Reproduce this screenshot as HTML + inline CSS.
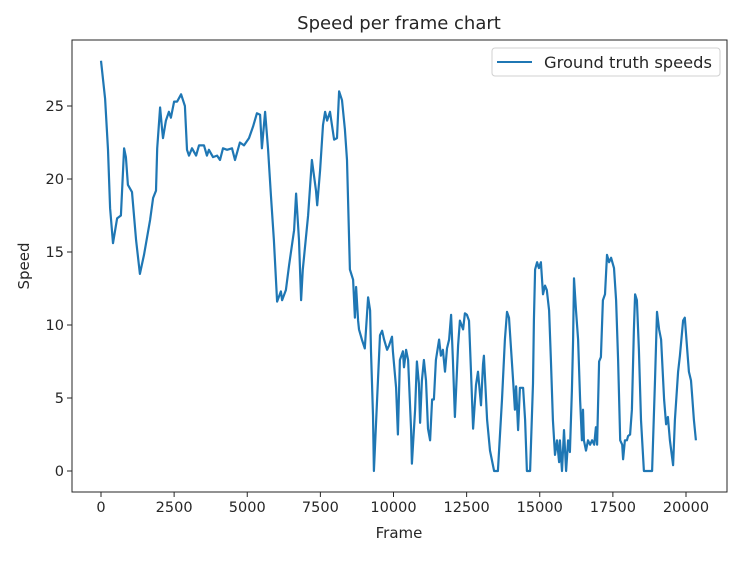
<!DOCTYPE html>
<html><head><meta charset="utf-8"><style>
html,body{margin:0;padding:0;background:#fff;}
svg text{font-family:"DejaVu Sans","Liberation Sans",sans-serif;fill:#262626;}
</style></head><body>
<svg id="chart" width="746" height="560" viewBox="0 0 746 560" xmlns="http://www.w3.org/2000/svg">
<rect width="746" height="560" fill="#fff"/>
<text x="399" y="29" text-anchor="middle" font-size="18">Speed per frame chart</text>
<g id="axes"></g>
<text x="399" y="538" text-anchor="middle" font-size="15">Frame</text>
<text transform="translate(29,266) rotate(-90)" text-anchor="middle" font-size="15">Speed</text>
<g>
<rect x="492" y="48" width="228" height="28" rx="3" fill="#fff" stroke="#d0d0d0"/>
<line x1="497" y1="62" x2="532" y2="62" stroke="#1f77b4" stroke-width="2"/>
<text x="544" y="68" font-size="16" textLength="168" lengthAdjust="spacingAndGlyphs">Ground truth speeds</text>
</g>
</svg>
<script>
const frames=[0,140,240,310,410,550,680,790,850,920,1060,1200,1330,1470,1680,1780,1880,1920,2020,2090,2120,2220,2320,2390,2500,2600,2740,2870,2940,3010,3110,3250,3350,3520,3620,3690,3830,3970,4070,4170,4310,4480,4580,4750,4890,5060,5200,5330,5440,5500,5610,5710,5810,5910,6020,6150,6190,6320,6430,6600,6670,6770,6840,6900,7080,7210,7350,7390,7490,7590,7660,7730,7830,7970,8070,8140,8240,8340,8410,8510,8620,8680,8720,8790,8820,8920,9020,9130,9200,9230,9300,9330,9440,9540,9610,9680,9780,9850,9950,9980,10090,10150,10220,10320,10360,10430,10500,10600,10630,10740,10800,10870,10910,10970,11040,11110,11180,11250,11320,11380,11450,11560,11620,11690,11760,11830,11900,11970,12030,12100,12210,12270,12380,12440,12510,12580,12650,12720,12820,12890,12990,13060,13090,13200,13300,13440,13570,13710,13810,13880,13950,14020,14090,14150,14190,14260,14320,14430,14500,14560,14670,14770,14800,14840,14910,14970,15040,15110,15180,15240,15320,15380,15450,15520,15590,15660,15690,15760,15830,15900,15970,16030,16100,16140,16170,16240,16310,16380,16440,16480,16510,16580,16650,16720,16790,16860,16920,16960,17030,17090,17160,17230,17300,17370,17440,17540,17610,17680,17750,17820,17850,17910,17980,18020,18090,18150,18220,18260,18320,18390,18460,18560,18840,18940,19010,19080,19150,19250,19320,19380,19450,19560,19620,19730,19790,19900,19960,20070,20100,20170,20210,20270,20340];
const speeds=[28.1,25.5,22,18,15.6,17.3,17.5,22.1,21.5,19.6,19.1,15.8,13.5,14.8,17.2,18.7,19.2,22.1,24.9,23.4,22.8,24,24.6,24.2,25.3,25.3,25.8,25,22,21.6,22.1,21.6,22.3,22.3,21.6,22,21.5,21.6,21.3,22.1,22,22.1,21.3,22.5,22.3,22.8,23.6,24.5,24.4,22.1,24.6,22.1,18.9,15.8,11.6,12.3,11.7,12.4,14.1,16.5,19.0,15.8,11.7,13.8,17.5,21.3,19.2,18.2,20.6,23.7,24.6,24,24.6,22.7,22.8,26,25.4,23.4,21.3,13.8,13.1,10.5,12.6,10.3,9.7,9.0,8.4,11.9,11,8.2,3.8,0,4.9,9.3,9.6,9.0,8.3,8.6,9.2,8.2,5.7,2.5,7.6,8.2,7.1,8.3,7.6,2.8,0.5,4.2,7.5,6.0,3.3,6.2,7.6,6.2,2.9,2.1,4.9,4.9,7.6,9.0,7.9,8.3,6.8,8.4,9.0,10.7,7.6,3.7,8.6,10.3,9.7,10.8,10.7,10.3,6.8,2.9,5.9,6.8,4.5,7.3,7.9,3.5,1.4,0,0,4.9,9.0,10.9,10.5,8.3,6.2,4.2,5.8,2.8,5.7,5.7,3.5,0,0,6.0,10.3,13.8,14.3,13.9,14.3,12.1,12.7,12.4,11.0,7.6,3.5,1.1,2.1,0.6,2.1,0,2.8,0,2.1,1.3,5.5,9.0,13.2,11.0,9.0,4.9,2.1,4.2,2.1,1.4,2.1,1.8,2.1,1.8,3.0,1.8,7.5,7.8,11.7,12.1,14.8,14.3,14.6,13.9,11.7,7.6,2.1,1.8,0.8,2.1,2.1,2.4,2.5,4.2,9.7,12.1,11.7,8.3,3.5,0,0,6.2,10.9,9.7,9.0,4.9,3.2,3.7,2.1,0.4,3.5,6.8,7.9,10.3,10.5,7.6,6.8,6.2,5.2,3.5,2.1];
const xTicks=[0,2500,5000,7500,10000,12500,15000,17500,20000];
const yTicks=[0,5,10,15,20,25];
const L=72,R=727,T=40,B=492;
const xs=f=>101+f*0.02925;
const ys=v=>471-v*14.6;
const NS='http://www.w3.org/2000/svg';
const svg=document.getElementById('chart');
const ax=document.getElementById('axes');
function mk(tag,attrs,parent){const e=document.createElementNS(NS,tag);for(const k in attrs)e.setAttribute(k,attrs[k]);parent.appendChild(e);return e;}
const frame=mk('rect',{x:L,y:T,width:R-L,height:B-T,fill:'none',stroke:'#262626','stroke-width':1},ax);


xTicks.forEach(t=>{
  const x=xs(t);
  const tk=mk('line',{x1:x,y1:B,x2:x,y2:B+5,stroke:'#262626'},ax);
  
  
  const lb=mk('text',{x:x,y:B+20,'text-anchor':'middle','font-size':14.5},ax);
  lb.textContent=t;
  
  
});
yTicks.forEach(t=>{
  const y=ys(t);
  const tk=mk('line',{x1:L-5,y1:y,x2:L,y2:y,stroke:'#262626'},ax);
  
  
  const lb=mk('text',{x:L-8,y:y+5,'text-anchor':'end','font-size':14.5},ax);
  lb.textContent=t;
  
  
});
const d=frames.map((f,i)=>(i?'L':'M')+xs(f).toFixed(1)+','+ys(speeds[i]).toFixed(1)).join(' ');
const line=mk('path',{d:d,fill:'none',stroke:'#1f77b4','stroke-width':2.2,'stroke-linejoin':'round'},svg);


</script>
</body></html>
